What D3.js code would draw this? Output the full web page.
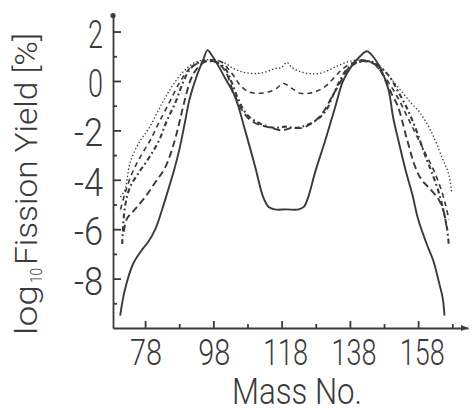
<!DOCTYPE html>
<html><head><meta charset="utf-8">
<script src="https://cdn.jsdelivr.net/npm/d3@7"></script>
<style>
html,body{margin:0;padding:0;background:#fff;}
svg{display:block;}
text{font-family:Roboto,"Liberation Sans","DejaVu Sans",sans-serif;font-weight:300;fill:#3a3a3a;}
</style></head>
<body><svg id="c" width="472" height="408"></svg>
<script>
// ---- data ----
const yTickLabels = ["2","0","-2","-4","-6","-8"];
const yMajor = [2,0,-2,-4,-6,-8];
const yMinor = [1,-1,-3,-5,-7,-9];
const xTickLabels = ["78","98","118","138","158"];
const xMajor = [78,98,118,138,158];
const xMinor = [88,108,128,148,168];

const solidMass = [70.7,72,74.5,77,79,81,83,85,86.5,88,89.5,91,93,95,96.3,97.5,99.5,101.5,104.4,107.3,110.3,112.6,114.2,116,119.5,123,124.5,125.8,127.8,130.8,133.7,136,138.5,141,143,145,147,149.3,150.7,152.2,154.3,156.3,158,160.5,162.5,164,165.2,165.7];
const solidVal  = [-9.5,-8.5,-7.4,-6.85,-6.5,-6.0,-5.2,-4.3,-3.6,-2.8,-1.8,-0.75,0.15,0.85,1.25,1.05,0.6,0.1,-0.65,-2.0,-3.5,-4.7,-5.1,-5.2,-5.2,-5.2,-5.1,-4.7,-3.7,-2.4,-1.05,0.0,0.6,1.0,1.2,0.95,0.5,-0.35,-1.5,-2.4,-3.6,-4.6,-5.6,-6.6,-7.3,-8.1,-8.8,-9.5];

const dashDotMass = [71.3,72.1,73.6,76.2,79.2,82.1,84.4,86.8,89,91,93,96,99,101.5,103.5,105.5,107.5,110,113,116,119,122,125,128,131,133,135,137,139.5,142,145,147.5,150,152,154,156,158,160,162,164,165.5,166.5,167];
const dashDotVal  = [-6.6,-5.1,-4.3,-3.7,-3.1,-2.4,-1.6,-0.9,-0.1,0.45,0.7,0.8,0.75,0.5,-0.1,-0.8,-1.3,-1.6,-1.8,-1.9,-1.85,-1.9,-1.8,-1.6,-1.2,-0.6,0.0,0.45,0.7,0.8,0.75,0.5,0.1,-0.4,-0.9,-1.5,-2.2,-3.0,-3.7,-4.5,-5.3,-6.0,-6.7];

const longDashMass = [71.8,72.6,75,78,81,83.9,86.5,88,89.4,91.5,93.5,96,99,101.5,104,106.5,109,112,115,118,121,124,127,130,132.5,135,137.5,140,143,146,148.5,150.5,152,154.8,157.2,159,161,164,165.5,166.3];
const longDashVal  = [-6.1,-5.6,-5.2,-4.7,-4.1,-3.5,-2.5,-1.7,-0.9,0.1,0.55,0.8,0.75,0.4,-0.5,-1.2,-1.6,-1.8,-1.9,-2.0,-1.9,-1.9,-1.7,-1.3,-0.7,-0.1,0.5,0.75,0.8,0.6,0.0,-0.6,-1.0,-2.4,-3.5,-4.0,-4.3,-4.8,-5.3,-5.9];

const dashMass = [70.8,72,74,76.5,79.5,82,85,88,91,94,97,100,102,104,106,108.5,111,114,116.5,118.5,121,123.5,126,128.5,131,133.5,136,139,142,145,147.5,150,152.5,155,157.5,160,162.5,164.5,166,167];
const dashVal  = [-5.2,-4.6,-3.8,-3.1,-2.4,-1.7,-0.9,-0.1,0.5,0.75,0.85,0.8,0.55,0.2,-0.2,-0.45,-0.5,-0.45,-0.3,-0.1,-0.3,-0.5,-0.5,-0.4,-0.2,0.15,0.5,0.75,0.85,0.7,0.3,-0.2,-0.8,-1.5,-2.2,-2.9,-3.6,-4.3,-5.0,-5.6];

const dotMass = [70.8,72.1,72.7,73.6,76.2,79.2,83,86,89,92,95,98,101,104,107,110,113,116,118,119.5,121,123,126,129,132,135,138,141,144,147,150,153,156,158.6,162,165,167,167.8];
const dotVal  = [-4.7,-4.4,-4.0,-3.3,-2.5,-1.9,-0.9,-0.2,0.35,0.7,0.85,0.85,0.75,0.5,0.35,0.3,0.35,0.5,0.55,0.75,0.55,0.4,0.3,0.3,0.45,0.65,0.8,0.85,0.8,0.55,0.1,-0.4,-0.9,-1.3,-2.1,-3.1,-3.8,-4.5];

// ---- drawing ----
const svg = d3.select("#c");
const ink = "#3a3a3a";
const x = d3.scaleLinear().domain([68.6,172.6]).range([113,468]);
const y = d3.scaleLinear().domain([-10,2.65]).range([328,15.5]);

const series = [
  {m:solidMass, v:solidVal, w:1.9, dash:null},
  {m:dashDotMass, v:dashDotVal, w:2.1, dash:"5,3,1.8,3"},
  {m:longDashMass, v:longDashVal, w:1.9, dash:"7,4"},
  {m:dashMass, v:dashVal, w:1.6, dash:"5,4"},
  {m:dotMass, v:dotVal, w:1.3, dash:"1.4,2.2"}
];
const line = d3.line().x(d=>x(d[0])).y(d=>y(d[1])).curve(d3.curveCatmullRom.alpha(0.5));
series.forEach(s=>{
  const pts = s.m.map((mm,i)=>[mm,s.v[i]]);
  svg.append("path").attr("d",line(pts)).attr("fill","none")
    .attr("stroke",ink).attr("stroke-width",s.w)
    .attr("stroke-dasharray",s.dash).attr("stroke-linejoin","round");
});

// axes
const gy = svg.append("g").attr("transform",`translate(${x(68.6)},0)`);
gy.call(d3.axisRight(y).tickValues(yMajor).tickSize(8).tickSizeOuter(0).tickFormat(""));
const gy2 = svg.append("g").attr("transform",`translate(${x(68.6)},0)`);
gy2.call(d3.axisRight(y).tickValues(yMinor).tickSize(4).tickSizeOuter(0).tickFormat(""));
gy2.select(".domain").remove();
const gx = svg.append("g").attr("transform",`translate(0,${y(-10)})`);
gx.call(d3.axisTop(x).tickValues(xMajor).tickSize(7).tickSizeOuter(0).tickFormat(""));
const gx2 = svg.append("g").attr("transform",`translate(0,${y(-10)})`);
gx2.call(d3.axisTop(x).tickValues(xMinor).tickSize(4).tickSizeOuter(0).tickFormat(""));
gx2.select(".domain").remove();
svg.selectAll(".domain, .tick line").attr("stroke",ink).attr("stroke-width",1.8);

// top dot of y-axis and arrow of x-axis
svg.append("circle").attr("cx",x(68.6)).attr("cy",y(2.65)).attr("r",2.6).attr("fill",ink);
const ax = x(172.6), ay = y(-10);
svg.append("path").attr("d",`M${ax-7},${ay-3}L${ax},${ay}L${ax-7},${ay+3}Z`).attr("fill",ink);

// y tick labels
yTickLabels.forEach((t,i)=>{
  const w = t.length>1 ? 29 : 15;
  svg.append("text").attr("x",103-w).attr("y",y(yMajor[i])+16)
    .attr("font-size",39).attr("textLength",w).attr("lengthAdjust","spacingAndGlyphs").text(t);
});
// x tick labels
xTickLabels.forEach((t,i)=>{
  const w = t.length>2 ? 45 : 32;
  const c = x(xMajor[i]) + (t.length>2 ? 4 : 1);
  svg.append("text").attr("x",c-w/2).attr("y",365)
    .attr("font-size",37).attr("textLength",w).attr("lengthAdjust","spacingAndGlyphs").text(t);
});
// x title
svg.append("text").attr("x",232).attr("y",404).attr("font-size",36)
  .attr("textLength",130).attr("lengthAdjust","spacingAndGlyphs").text("Mass No.");
// y title (rotated)
const yt = svg.append("g").attr("transform","translate(37,335) rotate(-90)");
yt.append("text").attr("x",0).attr("y",0).attr("font-size",31)
  .attr("textLength",50).attr("lengthAdjust","spacingAndGlyphs").text("log");
yt.append("text").attr("x",52).attr("y",5).attr("font-size",17)
  .attr("textLength",15).attr("lengthAdjust","spacingAndGlyphs").text("10");
yt.append("text").attr("x",70).attr("y",0).attr("font-size",31)
  .attr("textLength",232).attr("lengthAdjust","spacingAndGlyphs").text("Fission Yield [%]");
</script></body></html>
